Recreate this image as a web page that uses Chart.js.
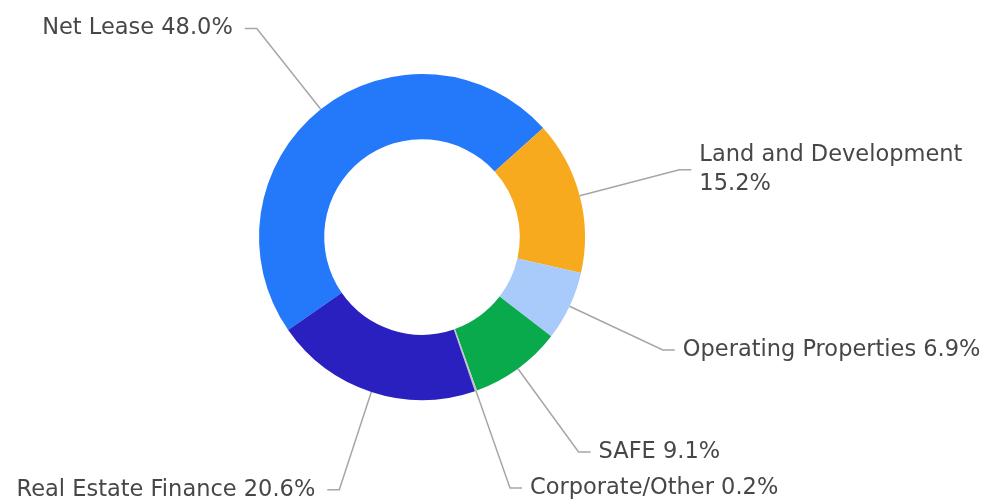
<!DOCTYPE html>
<html>
<head>
<meta charset="utf-8">
<script src="https://cdn.jsdelivr.net/npm/chart.js@4.4.1/dist/chart.umd.min.js"></script>
<style>
  html, body { margin: 0; padding: 0; background: #ffffff; }
  #wrap { width: 987px; height: 504px; }
</style>
</head>
<body>
<div id="wrap"><canvas id="c" width="987" height="504"></canvas></div>
<script>
const categories = ["Net Lease", "Land and Development", "Operating Properties", "SAFE", "Corporate/Other", "Real Estate Finance"];
const shares = [48.0, 15.2, 6.9, 9.1, 0.2, 20.6];
const sliceColors = ["#2479fb", "#f7aa1d", "#a9cbfc", "#08aa4c", "#c4c4c4", "#2a20c0"];

const FONT = "22.5px 'DejaVu Sans'";
const TEXT_COLOR = "#474747";
const LINE_COLOR = "#a6a6a6";

const leaderPlugin = {
  id: "leaders",
  afterDatasetsDraw(chart) {
    const ctx = chart.ctx;
    const meta = chart.getDatasetMeta(0);
    const W = chart.width;
    ctx.save();
    ctx.font = FONT;
    meta.data.forEach((arc, i) => {
      const p = arc.getProps(["x", "y", "startAngle", "endAngle", "outerRadius"], true);
      const a = (p.startAngle + p.endAngle) / 2;
      const cx = Math.cos(a), sy = Math.sin(a);
      const x0 = p.x + p.outerRadius * cx, y0 = p.y + p.outerRadius * sy;
      const ext = 103;
      const x1 = x0 + ext * cx, y1 = y0 + ext * sy;
      const dir = cx >= 0 ? 1 : -1;
      const x2 = x1 + dir * 12;
      ctx.strokeStyle = LINE_COLOR;
      ctx.lineWidth = 1.5;
      ctx.beginPath();
      ctx.moveTo(x0, y0);
      ctx.lineTo(x1, y1);
      ctx.lineTo(x2, y1);
      ctx.stroke();

      const full = categories[i] + " " + shares[i].toFixed(1) + "%";
      const tx = x2 + dir * (dir > 0 ? 8 : 12);
      let lines = [full];
      const avail = dir > 0 ? (W - tx - 4) : (tx - 4);
      if (ctx.measureText(full).width > avail) {
        lines = [categories[i], shares[i].toFixed(1) + "%"];
      }
      ctx.fillStyle = TEXT_COLOR;
      ctx.textAlign = dir > 0 ? "left" : "right";
      ctx.textBaseline = "middle";
      const lh = 29;
      const top = y1 - (lines.length - 1) * lh / 2;
      lines.forEach((t, k) => ctx.fillText(t, tx, top + k * lh));
    });
    ctx.restore();
  }
};

new Chart(document.getElementById("c"), {
  type: "doughnut",
  data: {
    labels: categories,
    datasets: [{
      data: shares,
      backgroundColor: sliceColors,
      borderWidth: 0,
      hoverOffset: 0
    }]
  },
  options: {
    responsive: false,
    animation: false,
    rotation: -124.8,
    cutout: "60%",
    layout: { padding: { left: 259, right: 402, top: 74, bottom: 104 } },
    plugins: {
      legend: { display: false },
      tooltip: { enabled: false }
    },
    events: []
  },
  plugins: [leaderPlugin]
});
</script>
</body>
</html>
